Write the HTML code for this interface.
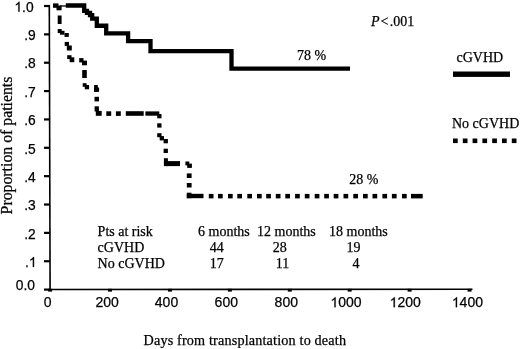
<!DOCTYPE html>
<html><head><meta charset="utf-8"><style>
html,body{margin:0;padding:0;background:#fff;}
svg{display:block;}
text{fill:#000;stroke:#000;stroke-width:0.25px;}
svg{filter:grayscale(1);}
.h{fill:none;stroke:none;}
</style></head><body>
<svg width="520" height="349" viewBox="0 0 520 349">
<path d="M49.3 5.2 L50.1 290.3" stroke="#000" stroke-width="1.6" fill="none"/>
<path d="M49.5 289.5 L472.5 289.2" stroke="#000" stroke-width="1.6" fill="none"/>
<rect x="44" y="288.50" width="6" height="2.2" fill="#000"/>
<rect x="44" y="260.14" width="6" height="2.2" fill="#000"/>
<rect x="44" y="231.78" width="6" height="2.2" fill="#000"/>
<rect x="44" y="203.42" width="6" height="2.2" fill="#000"/>
<rect x="44" y="175.06" width="6" height="2.2" fill="#000"/>
<rect x="44" y="146.70" width="6" height="2.2" fill="#000"/>
<rect x="44" y="118.34" width="6" height="2.2" fill="#000"/>
<rect x="44" y="89.98" width="6" height="2.2" fill="#000"/>
<rect x="44" y="61.62" width="6" height="2.2" fill="#000"/>
<rect x="44" y="33.26" width="6" height="2.2" fill="#000"/>
<rect x="44" y="4.90" width="6" height="2.2" fill="#000"/>
<rect x="48.10" y="288.8" width="4" height="2.8" fill="#000"/>
<rect x="108.02" y="288.8" width="4" height="2.8" fill="#000"/>
<rect x="167.94" y="288.8" width="4" height="2.8" fill="#000"/>
<rect x="227.86" y="288.8" width="4" height="2.8" fill="#000"/>
<rect x="287.78" y="288.8" width="4" height="2.8" fill="#000"/>
<rect x="347.70" y="288.8" width="4" height="2.8" fill="#000"/>
<rect x="407.62" y="288.8" width="4" height="2.8" fill="#000"/>
<rect x="467.54" y="288.8" width="4" height="2.8" fill="#000"/>
<path d="M65.8 5.5 H84.2 V10.8 H87 V12.8 H90 V15.2 H92.2 V18.6 H96.8 V25.75 H106.2 V33.4 H128.1 V41.15 H150.5 V51.2 H231.5 V68.6 H350" stroke="#000" stroke-width="4.3" fill="none" stroke-linejoin="miter" stroke-linecap="butt"/>
<path d="M60 6 H66.5" stroke="#000" stroke-width="1.3"/>
<rect x="53" y="3.4" width="5.50" height="4.40" fill="#000"/>
<rect x="56.5" y="5.5" width="5.10" height="4.80" fill="#000"/>
<rect x="57.7" y="15.5" width="3.90" height="8.50" fill="#000"/>
<rect x="57.7" y="29" width="4.00" height="4.00" fill="#000"/>
<rect x="59.9" y="30.8" width="4.60" height="3.90" fill="#000"/>
<rect x="64.5" y="33" width="4.30" height="3.90" fill="#000"/>
<rect x="64.7" y="41.9" width="4.30" height="4.00" fill="#000"/>
<rect x="66.8" y="45.5" width="5.00" height="5.00" fill="#000"/>
<rect x="67.2" y="55.2" width="4.30" height="3.90" fill="#000"/>
<rect x="69.7" y="57.3" width="4.60" height="4.90" fill="#000"/>
<rect x="79.2" y="58.1" width="4.30" height="4.30" fill="#000"/>
<rect x="82" y="60.6" width="5.00" height="4.70" fill="#000"/>
<rect x="82.2" y="70" width="4.60" height="8.00" fill="#000"/>
<rect x="82.7" y="83.2" width="3.90" height="3.60" fill="#000"/>
<rect x="84.8" y="85" width="4.30" height="4.30" fill="#000"/>
<rect x="94.1" y="85" width="3.70" height="6.80" fill="#000"/>
<rect x="94.1" y="87.5" width="5.00" height="4.30" fill="#000"/>
<rect x="94.5" y="96.8" width="4.50" height="4.60" fill="#000"/>
<rect x="94.6" y="106.3" width="4.30" height="5.20" fill="#000"/>
<rect x="95.8" y="110.9" width="5.90" height="4.90" fill="#000"/>
<rect x="106.3" y="111.3" width="4.90" height="4.60" fill="#000"/>
<rect x="115.9" y="111.3" width="4.90" height="4.60" fill="#000"/>
<rect x="125.8" y="111.2" width="17.90" height="4.60" fill="#000"/>
<rect x="145.4" y="111.4" width="13.90" height="4.30" fill="#000"/>
<rect x="157.2" y="114" width="4.30" height="4.30" fill="#000"/>
<rect x="157.2" y="123.3" width="4.30" height="4.30" fill="#000"/>
<rect x="157.2" y="133.2" width="4.30" height="4.00" fill="#000"/>
<rect x="159.7" y="136.1" width="4.30" height="4.30" fill="#000"/>
<rect x="163.6" y="139" width="4.30" height="4.30" fill="#000"/>
<rect x="163.6" y="148.7" width="4.30" height="4.30" fill="#000"/>
<rect x="163.9" y="158.2" width="4.00" height="4.30" fill="#000"/>
<rect x="166.1" y="161.1" width="13.90" height="5.00" fill="#000"/>
<rect x="163.9" y="161.1" width="4.00" height="5.00" fill="#000"/>
<rect x="185.4" y="161.5" width="3.90" height="3.90" fill="#000"/>
<rect x="187.2" y="163.6" width="4.70" height="4.30" fill="#000"/>
<rect x="186.8" y="173.4" width="4.80" height="4.60" fill="#000"/>
<rect x="186.8" y="183" width="4.80" height="4.50" fill="#000"/>
<rect x="186.8" y="192.7" width="4.70" height="5.50" fill="#000"/>
<rect x="186.8" y="193.8" width="16.70" height="4.40" fill="#000"/>
<rect x="208.8" y="193.9" width="4.70" height="4.50" fill="#000"/>
<rect x="218" y="193.9" width="4.70" height="4.50" fill="#000"/>
<rect x="228" y="193.9" width="4.70" height="4.50" fill="#000"/>
<rect x="237.3" y="193.9" width="4.70" height="4.50" fill="#000"/>
<rect x="247.3" y="193.9" width="4.70" height="4.50" fill="#000"/>
<rect x="257" y="193.9" width="4.70" height="4.50" fill="#000"/>
<rect x="266.2" y="193.9" width="4.70" height="4.50" fill="#000"/>
<rect x="275.8" y="193.9" width="4.70" height="4.50" fill="#000"/>
<rect x="285.3" y="193.9" width="4.70" height="4.50" fill="#000"/>
<rect x="295.1" y="193.9" width="4.70" height="4.50" fill="#000"/>
<rect x="304.8" y="193.9" width="4.70" height="4.50" fill="#000"/>
<rect x="314.7" y="193.9" width="4.70" height="4.50" fill="#000"/>
<rect x="324.2" y="193.9" width="4.70" height="4.50" fill="#000"/>
<rect x="333.7" y="193.9" width="4.70" height="4.50" fill="#000"/>
<rect x="343.5" y="193.9" width="4.70" height="4.50" fill="#000"/>
<rect x="353.3" y="193.9" width="4.70" height="4.50" fill="#000"/>
<rect x="363" y="193.9" width="4.70" height="4.50" fill="#000"/>
<rect x="372.5" y="193.9" width="4.70" height="4.50" fill="#000"/>
<rect x="382.4" y="193.9" width="4.70" height="4.50" fill="#000"/>
<rect x="391.9" y="193.9" width="4.70" height="4.50" fill="#000"/>
<rect x="402" y="193.9" width="4.70" height="4.50" fill="#000"/>
<rect x="411" y="193.9" width="11.70" height="4.50" fill="#000"/>
<rect x="453" y="71.5" width="57" height="5.4" fill="#000"/>
<rect x="453.00" y="138.5" width="4.7" height="4.6" fill="#000"/>
<rect x="462.80" y="138.5" width="4.7" height="4.6" fill="#000"/>
<rect x="472.60" y="138.5" width="4.7" height="4.6" fill="#000"/>
<rect x="482.40" y="138.5" width="4.7" height="4.6" fill="#000"/>
<rect x="492.20" y="138.5" width="4.7" height="4.6" fill="#000"/>
<rect x="502.00" y="138.5" width="4.7" height="4.6" fill="#000"/>
<rect x="511.80" y="138.5" width="4.7" height="4.6" fill="#000"/>
<text class="sl" x="34.9" y="289.90" font-family="Liberation Sans, sans-serif" font-size="13.8" text-anchor="end">0.0</text>
<text class="sl" x="36.6" y="266.94" font-family="Liberation Sans, sans-serif" font-size="13.8" text-anchor="end">.<tspan class="h">1</tspan></text>
<text class="sl" x="35.7" y="238.58" font-family="Liberation Sans, sans-serif" font-size="13.8" text-anchor="end">.2</text>
<text class="sl" x="35.7" y="210.22" font-family="Liberation Sans, sans-serif" font-size="13.8" text-anchor="end">.3</text>
<text class="sl" x="35.7" y="181.86" font-family="Liberation Sans, sans-serif" font-size="13.8" text-anchor="end">.4</text>
<text class="sl" x="35.7" y="153.50" font-family="Liberation Sans, sans-serif" font-size="13.8" text-anchor="end">.5</text>
<text class="sl" x="35.7" y="125.14" font-family="Liberation Sans, sans-serif" font-size="13.8" text-anchor="end">.6</text>
<text class="sl" x="35.7" y="96.78" font-family="Liberation Sans, sans-serif" font-size="13.8" text-anchor="end">.7</text>
<text class="sl" x="35.7" y="68.42" font-family="Liberation Sans, sans-serif" font-size="13.8" text-anchor="end">.8</text>
<text class="sl" x="35.7" y="40.06" font-family="Liberation Sans, sans-serif" font-size="13.8" text-anchor="end">.9</text>
<text class="sl" x="33.6" y="11.70" font-family="Liberation Sans, sans-serif" font-size="13.8" text-anchor="end"><tspan class="h">1</tspan>.0</text>
<text class="sl" x="47.65" y="307.2" font-family="Liberation Sans, sans-serif" font-size="14" text-anchor="middle">0</text>
<text class="sl" x="107.20" y="307.2" font-family="Liberation Sans, sans-serif" font-size="14" text-anchor="middle">200</text>
<text class="sl" x="166.50" y="307.2" font-family="Liberation Sans, sans-serif" font-size="14" text-anchor="middle">400</text>
<text class="sl" x="226.30" y="307.2" font-family="Liberation Sans, sans-serif" font-size="14" text-anchor="middle">600</text>
<text class="sl" x="286.30" y="307.2" font-family="Liberation Sans, sans-serif" font-size="14" text-anchor="middle">800</text>
<text class="sl" x="346.00" y="307.2" font-family="Liberation Sans, sans-serif" font-size="14" text-anchor="middle"><tspan class="h">1</tspan>000</text>
<text class="sl" x="405.20" y="307.2" font-family="Liberation Sans, sans-serif" font-size="14" text-anchor="middle"><tspan class="h">1</tspan>200</text>
<text class="sl" x="467.40" y="307.2" font-family="Liberation Sans, sans-serif" font-size="14" text-anchor="middle"><tspan class="h">1</tspan>400</text>
<text x="143.5" y="344.7" font-family="Liberation Serif, serif" font-size="14.2" textLength="202.5" lengthAdjust="spacing">Days from transplantation to death</text>
<text transform="translate(12.3,214.4) rotate(-90)" font-family="Liberation Serif, serif" font-size="15.8">Proportion of patients</text>
<text x="371" y="25.8" font-family="Liberation Serif, serif" font-size="14"><tspan font-style="italic">P</tspan><tspan dx="1">&lt;</tspan><tspan dx="1.4">.001</tspan></text>
<text x="296.9" y="60" font-family="Liberation Serif, serif" font-size="14">78 %</text>
<text x="349.3" y="183.8" font-family="Liberation Serif, serif" font-size="14">28 %</text>
<text x="456.5" y="62.2" font-family="Liberation Serif, serif" font-size="14">cGVHD</text>
<text x="452" y="128.2" font-family="Liberation Serif, serif" font-size="14">No cGVHD</text>
<text x="97.6" y="236.3" font-family="Liberation Serif, serif" font-size="14">Pts at risk</text>
<text x="97.6" y="252.2" font-family="Liberation Serif, serif" font-size="14">cGVHD</text>
<text x="97.6" y="268.1" font-family="Liberation Serif, serif" font-size="14">No cGVHD</text>
<text x="198" y="236.3" font-family="Liberation Serif, serif" font-size="14">6 months</text>
<text x="257" y="236.3" font-family="Liberation Serif, serif" font-size="14">12 months</text>
<text x="329" y="236.3" font-family="Liberation Serif, serif" font-size="14">18 months</text>
<text x="216.8" y="252.2" font-family="Liberation Serif, serif" font-size="14" text-anchor="middle">44</text>
<text x="216.8" y="268.1" font-family="Liberation Serif, serif" font-size="14" text-anchor="middle">17</text>
<text x="279.8" y="252.2" font-family="Liberation Serif, serif" font-size="14" text-anchor="middle">28</text>
<text x="282.4" y="268.1" font-family="Liberation Serif, serif" font-size="14" text-anchor="middle">11</text>
<text x="353.4" y="252.2" font-family="Liberation Serif, serif" font-size="14" text-anchor="middle">19</text>
<text x="356" y="268.1" font-family="Liberation Serif, serif" font-size="14" text-anchor="middle">4</text>
<path d="M763 0L583 0L583 1147Q518 1085 412 1023Q306 961 222 930L222 1104Q373 1175 486 1276Q599 1377 646 1466L763 1466Z" transform="translate(28.91,266.94) scale(0.006738,-0.006738)" fill="#000" stroke="#000" stroke-width="37.1"/>
<path d="M763 0L583 0L583 1147Q518 1085 412 1023Q306 961 222 930L222 1104Q373 1175 486 1276Q599 1377 646 1466L763 1466Z" transform="translate(14.40,11.70) scale(0.006738,-0.006738)" fill="#000" stroke="#000" stroke-width="37.1"/>
<path d="M763 0L583 0L583 1147Q518 1085 412 1023Q306 961 222 930L222 1104Q373 1175 486 1276Q599 1377 646 1466L763 1466Z" transform="translate(330.42,307.20) scale(0.006836,-0.006836)" fill="#000" stroke="#000" stroke-width="36.6"/>
<path d="M763 0L583 0L583 1147Q518 1085 412 1023Q306 961 222 930L222 1104Q373 1175 486 1276Q599 1377 646 1466L763 1466Z" transform="translate(389.62,307.20) scale(0.006836,-0.006836)" fill="#000" stroke="#000" stroke-width="36.6"/>
<path d="M763 0L583 0L583 1147Q518 1085 412 1023Q306 961 222 930L222 1104Q373 1175 486 1276Q599 1377 646 1466L763 1466Z" transform="translate(451.82,307.20) scale(0.006836,-0.006836)" fill="#000" stroke="#000" stroke-width="36.6"/>
</svg>
</body></html>
